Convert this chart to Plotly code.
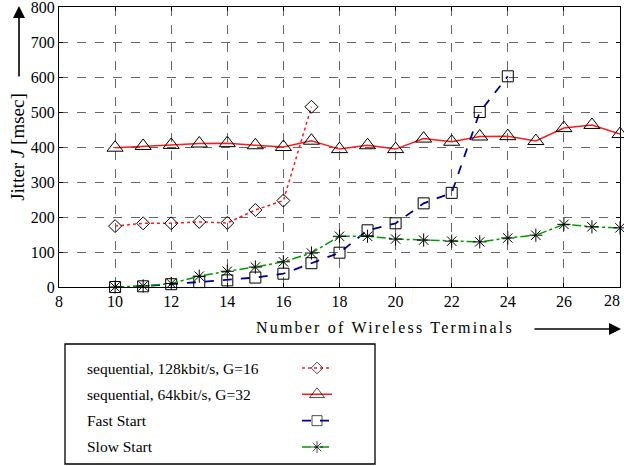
import plotly.graph_objects as go

W, H = 624, 466

# ---- data ----
x_seq128 = [10, 11, 12, 13, 14, 15, 16, 17]
y_seq128 = [174, 182, 182, 186, 183, 220, 247, 515]

x_seq64 = list(range(10, 29))
y_seq64 = [398, 403, 406, 410, 411, 405, 400, 418, 394, 405, 394, 424, 415, 430, 431, 417, 454, 463, 437]

x_fast = list(range(10, 25))
y_fast = [0, 2, 8, 14, 19, 27, 38, 68, 98, 162, 182, 239, 269, 500, 602]

x_slow = list(range(10, 29))
y_slow = [0, 3, 10, 31, 45, 57, 72, 97, 145, 145, 137, 134, 131, 129, 140, 148, 179, 172, 169]

series_names = ["sequential, 128kbit/s, G=16", "sequential, 64kbit/s, G=32", "Fast Start", "Slow Start"]
x_ticks = list(range(8, 29, 2))
x_ticktext = [str(v) for v in x_ticks]
y_ticks = list(range(0, 801, 100))

RED = "#ff1a1a"
BLUE = "#00008f"
GREEN = "#009a00"
SERIF = "Liberation Serif"

styles = [
    dict(color=RED, dash="dot", symbol="diamond-open", size=10, width=1.5),
    dict(color=RED, dash="solid", symbol="triangle-up-open", size=14, width=1.5),
    dict(color=BLUE, dash="dash", symbol="square-open", size=11, width=1.8),
    dict(color=GREEN, dash="dashdot", symbol="asterisk-open", size=11, width=1.5),
]
datasets = [(x_seq128, y_seq128), (x_seq64, y_seq64), (x_fast, y_fast), (x_slow, y_slow)]

fig = go.Figure()
for (xs, ys), st, nm in zip(datasets, styles, series_names):
    fig.add_trace(go.Scatter(
        x=xs, y=ys, name=nm, mode="lines+markers", showlegend=False, cliponaxis=False,
        line=dict(color=st["color"], dash=st["dash"], width=st["width"]),
        marker=dict(symbol=st["symbol"], size=st["size"], color="black",
                    line=dict(color="black", width=1)),
    ))

# legend samples on a small helper axis
for i, (st, nm) in enumerate(zip(styles, series_names)):
    row = 3 - i
    fig.add_trace(go.Scatter(
        x=[0, 0.5, 1], y=[row, row, row], mode="lines+markers", showlegend=False,
        xaxis="x2", yaxis="y2", cliponaxis=False,
        line=dict(color=st["color"], dash=st["dash"], width=st["width"]),
        marker=dict(symbol=st["symbol"], size=[0, st["size"] - 1, 0], color="black",
                    line=dict(color="black", width=1)),
    ))

def px(x):
    return x / W

def py(y):
    return 1 - y / H

annotations = []
for i, nm in enumerate(series_names):
    rowy = 368 + i * 26.33
    annotations.append(dict(text=nm, x=px(85), y=py(rowy), xref="paper", yref="paper",
                            xanchor="left", yanchor="middle", showarrow=False,
                            font=dict(family=SERIF, size=15.5, color="black")))

# last x tick label, kept inside the page (right-aligned at its tick)
annotations.append(dict(text=x_ticktext[-1], x=x_ticks[-1], xref="x", y=py(300), yref="paper",
                        xanchor="right", yanchor="middle", showarrow=False, xshift=2,
                        font=dict(family=SERIF, size=16, color="black")))

# y arrow
annotations.append(dict(text="", x=px(19), y=py(6), xref="paper", yref="paper",
                        ax=0, ay=72, showarrow=True, arrowhead=2, arrowsize=1.5, arrowwidth=1.6,
                        arrowcolor="black"))
# x title + arrow
annotations.append(dict(text='<span style="letter-spacing:2.2px">Number of Wireless Terminals</span>',
                        x=px(385), y=py(327), xref="paper", yref="paper",
                        showarrow=False, xanchor="center", yanchor="middle",
                        font=dict(family=SERIF, size=16, color="black")))
annotations.append(dict(text="", x=px(621), y=py(329), xref="paper", yref="paper",
                        ax=-88, ay=0, showarrow=True, arrowhead=2, arrowsize=1.5, arrowwidth=1.6,
                        arrowcolor="black"))

shapes = [dict(type="rect", xref="paper", yref="paper", x0=px(65), x1=px(375), y0=py(464), y1=py(344),
               line=dict(color="black", width=1.3), fillcolor="rgba(0,0,0,0)")]

axis_common = dict(showline=True, linecolor="black", linewidth=1.3, mirror="ticks",
                   ticks="inside", ticklen=4, tickcolor="black",
                   showgrid=True, gridcolor="#666666", griddash="dash", gridwidth=1,
                   zeroline=False, ticklabeloverflow="allow", automargin=False,
                   tickfont=dict(family=SERIF, size=16, color="black"))

fig.update_layout(
    width=W, height=H, margin=dict(l=0, r=0, t=0, b=0),
    paper_bgcolor="white", plot_bgcolor="white",
    font=dict(family=SERIF, color="black"),
    xaxis=dict(domain=[px(59), px(620)], range=[8, 28], tickvals=x_ticks,
               ticktext=x_ticktext[:-1] + [""], **axis_common),
    yaxis=dict(domain=[py(287), py(7)], range=[0, 800], tickvals=y_ticks,
               title=dict(text="Jitter <i>J</i> [msec]", standoff=1,
                          font=dict(family=SERIF, size=19, color="black")),
               **axis_common),
    xaxis2=dict(domain=[px(302), px(332)], range=[0, 1], visible=False, anchor="y2"),
    yaxis2=dict(domain=[py(460.2), py(354.8)], range=[-0.5, 3.5], visible=False, anchor="x2"),
    annotations=annotations, shapes=shapes, showlegend=False,
)

fig.write_html("out.html")
